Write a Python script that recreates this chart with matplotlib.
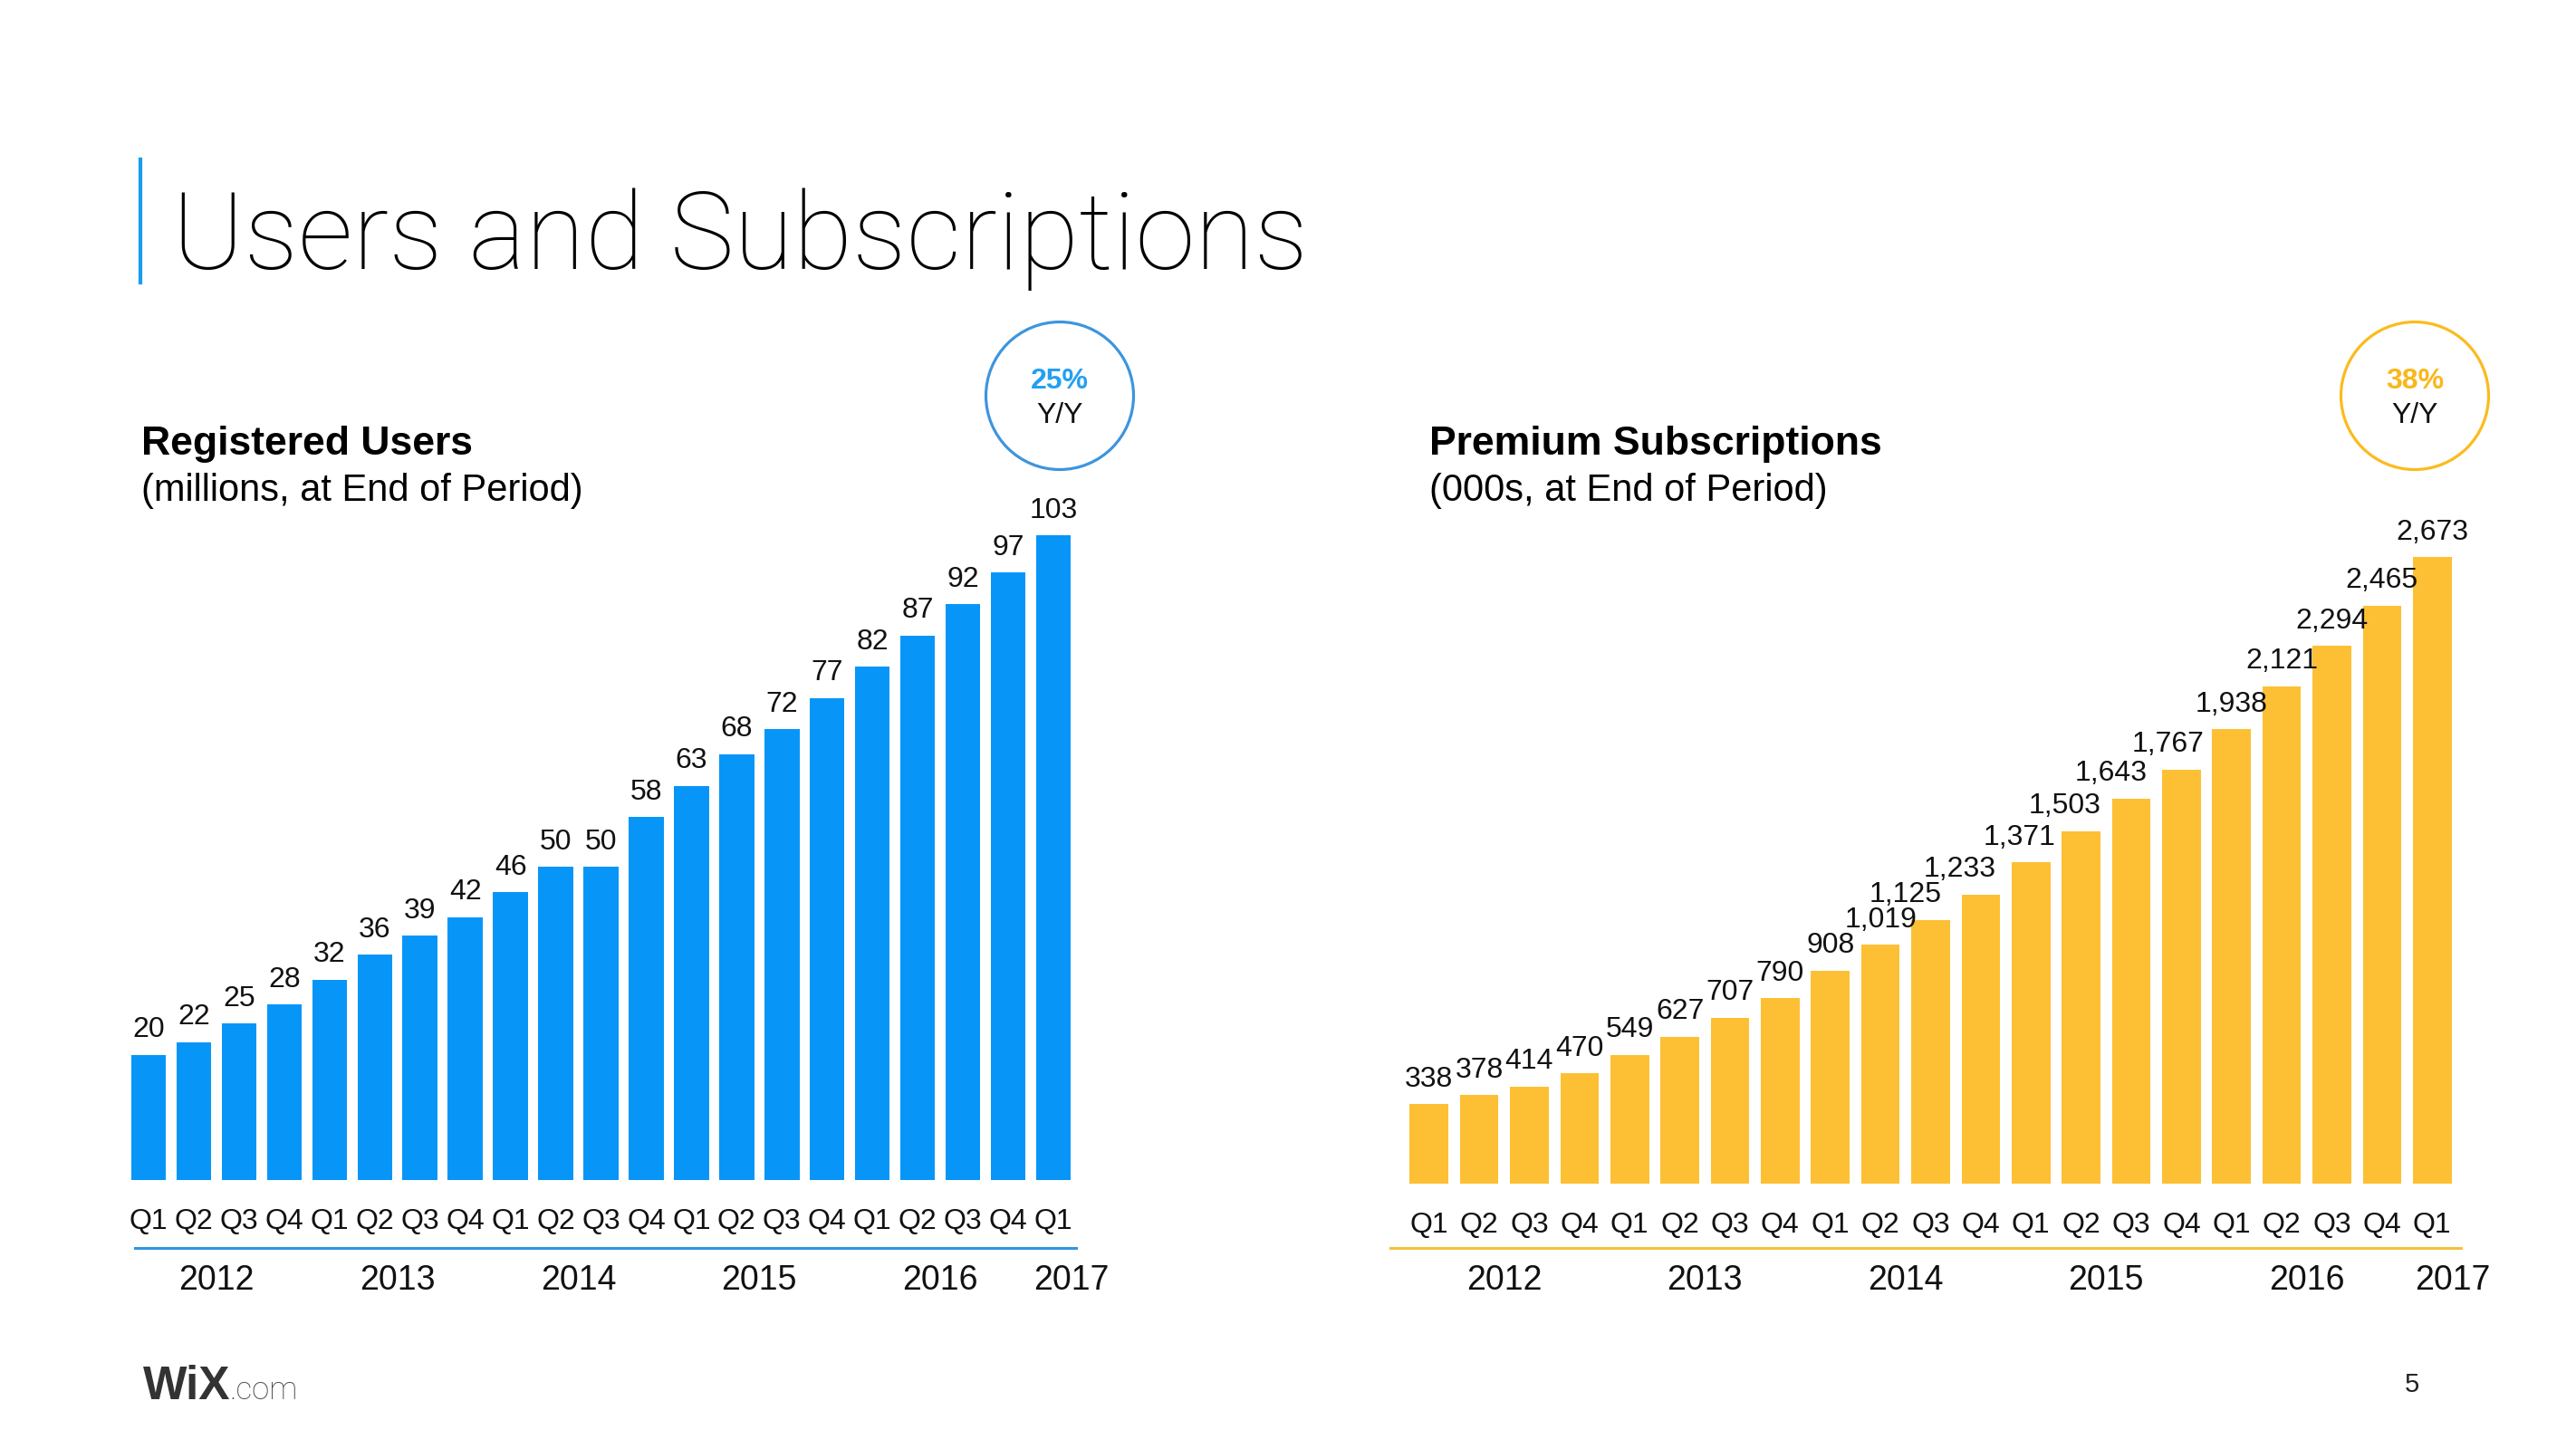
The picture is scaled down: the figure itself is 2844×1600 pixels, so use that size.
import matplotlib.pyplot as plt
import matplotlib.transforms as mtransforms
from matplotlib.patches import Circle
from matplotlib.lines import Line2D

# data
quarters = ['Q1', 'Q2', 'Q3', 'Q4'] * 5 + ['Q1']
years = ['2012', '2013', '2014', '2015', '2016', '2017']
quarter_year = ['2012'] * 4 + ['2013'] * 4 + ['2014'] * 4 + ['2015'] * 4 + ['2016'] * 4 + ['2017']
users = [20, 22, 25, 28, 32, 36, 39, 42, 46, 50, 50, 58, 63, 68, 72, 77, 82, 87, 92, 97, 103]
subs = [338, 378, 414, 470, 549, 627, 707, 790, 908, 1019, 1125, 1233, 1371,
        1503, 1643, 1767, 1938, 2121, 2294, 2465, 2673]
users_growth = '25%'
subs_growth = '38%'

BLUE = '#0796F8'
YELLOW = '#FDC034'
W, H = 2844, 1600

plt.rcParams['font.family'] = ['Liberation Sans', 'DejaVu Sans']

fig = plt.figure(figsize=(W / 100, H / 100), dpi=100)


def fx(px):
    return px / W


def fy(py):
    return 1 - py / H


def bar_panel(rect, values, color, line_color, line_x, xoffs=None):
    ax = fig.add_axes(rect)
    x = list(range(len(values)))
    ax.bar(x, values, width=0.77, color=color)
    ax.set_xlim(-0.5, len(values) - 0.5)
    ax.set_ylim(0, max(values))
    for s in ax.spines.values():
        s.set_visible(False)
    ax.set_yticks([])
    ax.set_xticks(x)
    ax.set_xticklabels(quarters, fontsize=23, color='#111111')
    ax.tick_params(axis='x', length=0, pad=22)
    for i, v in enumerate(values):
        dx = xoffs[i] if xoffs else 0
        ax.annotate(f'{v:,}', (i, v), xytext=(dx, 9), textcoords='offset points',
                    ha='center', va='bottom', fontsize=23, color='#111111',
                    annotation_clip=False)
    # year labels under the quarters
    trans = mtransforms.blended_transform_factory(ax.transData, fig.transFigure)
    for yr in years:
        idx = [i for i, q in enumerate(quarter_year) if q == yr]
        xc = sum(idx) / len(idx)
        if len(idx) == 1:
            xc += 0.4
        ax.text(xc, fy(1414), yr, transform=trans, ha='center', va='center',
                fontsize=27, color='#111111')
    fig.add_artist(Line2D([fx(line_x[0]), fx(line_x[1])], [fy(1378), fy(1378)],
                          color=line_color, lw=2.2))
    return ax


# left panel: registered users
bar_panel([fx(139), fy(1303), fx(1049), (1303 - 591) / H], users, BLUE, '#2F96DE', (149, 1188))

# right panel: premium subscriptions
sub_offs = [0] * 10 + [-20, -17, -9, -13, -16, -11] + [0] * 5
bar_panel([fx(1550), fy(1307), fx(1163), (1307 - 615) / H], subs, YELLOW, '#F3C13A', (1535, 2717), sub_offs)

# title with accent bar
fig.add_artist(Line2D([fx(155), fx(155)], [fy(176), fy(312)], color='#1A9CF0', lw=3))
fig.text(fx(190), fy(297), 'Users and Subscriptions', fontsize=86, fontweight='light',
         family=['Roboto', 'Liberation Sans', 'DejaVu Sans'], va='baseline', color='#000000')

# panel headings
fig.text(fx(156), fy(502), 'Registered Users', fontsize=32, fontweight='bold', va='baseline')
fig.text(fx(156), fy(553), '(millions, at End of Period)', fontsize=30, va='baseline')
fig.text(fx(1578), fy(502), 'Premium Subscriptions', fontsize=32, fontweight='bold', va='baseline')
fig.text(fx(1578), fy(553), '(000s, at End of Period)', fontsize=30, va='baseline')

# growth badges
for cx, col, txtcol, pct in [(1170, '#3D95DE', '#23A0F2', users_growth),
                             (2666, '#FBBB1E', '#F8B81C', subs_growth)]:
    fig.add_artist(Circle((cx / 100, (H - 437) / 100), 0.815, transform=fig.dpi_scale_trans,
                          fill=False, edgecolor=col, lw=2.3))
    fig.text(fx(cx), fy(421), pct, fontsize=23, fontweight='bold', color=txtcol,
             ha='center', va='center')
    fig.text(fx(cx), fy(459), 'Y/Y', fontsize=23, color='#111111', ha='center', va='center')

# footer
fig.text(fx(158), fy(1545), 'WiX', fontsize=37, fontweight='bold', color='#333333', va='baseline')
fig.text(fx(254), fy(1545), '.com', fontsize=25, fontweight='light', color='#444444', va='baseline',
         family=['Roboto', 'Liberation Sans', 'DejaVu Sans'])
fig.text(fx(2663), fy(1529), '5', fontsize=21, color='#222222', ha='center', va='center')

fig.savefig('out.png', dpi=100, facecolor='white')
